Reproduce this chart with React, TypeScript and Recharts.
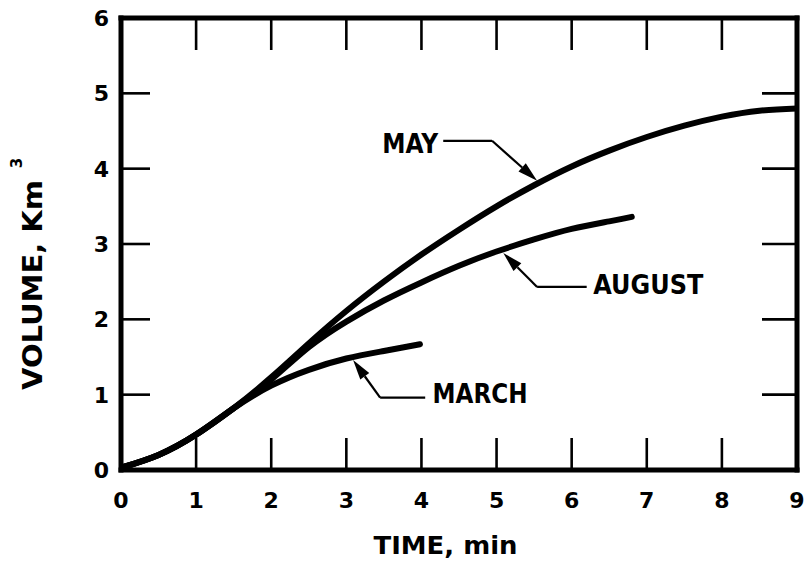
import React from 'react';
import { LineChart, Line, XAxis, YAxis, ReferenceLine, ReferenceDot } from 'recharts';

// Axis ticks
const timeTicks = [0, 1, 2, 3, 4, 5, 6, 7, 8, 9];
const volumeTicks = [0, 1, 2, 3, 4, 5, 6];

// Cumulative volume (km^3) against time (min) for each month
const mayTime = [0, 0.5, 1, 1.5, 2, 2.5, 3, 3.5, 4, 4.5, 5, 5.5, 6, 6.5, 7, 7.5, 8, 8.5, 9];
const mayVolume = [0.03, 0.2, 0.47, 0.82, 1.23, 1.68, 2.11, 2.5, 2.86, 3.19, 3.5, 3.78, 4.03, 4.24, 4.42, 4.57, 4.69, 4.77, 4.8];

const augustTime = [0, 0.5, 1, 1.5, 2, 2.5, 3, 3.5, 4, 4.5, 5, 5.5, 6, 6.5, 6.8];
const augustVolume = [0.03, 0.2, 0.47, 0.82, 1.2, 1.63, 1.97, 2.25, 2.49, 2.71, 2.9, 3.06, 3.2, 3.3, 3.36];

const marchTime = [0, 0.5, 1, 1.5, 2, 2.5, 3, 3.5, 3.98];
const marchVolume = [0.03, 0.2, 0.47, 0.82, 1.12, 1.33, 1.48, 1.58, 1.67];

const toPoints = (ts: number[], vs: number[]) => ts.map((t, i) => ({ t, v: vs[i] }));

const series = [
  { name: 'MAY', data: toPoints(mayTime, mayVolume) },
  { name: 'AUGUST', data: toPoints(augustTime, augustVolume) },
  { name: 'MARCH', data: toPoints(marchTime, marchVolume) },
];

// Callout labels with elbowed leader arrows, placed in data units
const callouts = [
  { name: 'MAY', label: [3.85, 4.33], start: [4.29, 4.37], elbow: [4.94, 4.37], tip: [5.54, 3.84], width: 56 },
  { name: 'AUGUST', label: [7.02, 2.46], start: [6.2, 2.43], elbow: [5.54, 2.43], tip: [5.09, 2.88], width: 110 },
  { name: 'MARCH', label: [4.78, 1.01], start: [4.05, 0.96], elbow: [3.45, 0.96], tip: [3.09, 1.46], width: 95 },
];

const FONT = '"DejaVu Sans", sans-serif';
const INK = '#000';

const BottomTick = (p: any) => {
  const { x, y, payload } = p;
  const v = payload.value;
  return (
    <g>
      {v > 0 && v < 9 && <line x1={x} y1={y} x2={x} y2={y - 32} stroke={INK} strokeWidth={2.6} />}
      <text x={x} y={y + 38} textAnchor="middle" fontFamily={FONT} fontWeight="bold" fontSize={22} fill={INK}>
        {v}
      </text>
    </g>
  );
};

const TopTick = (p: any) => {
  const { x, y, payload } = p;
  const v = payload.value;
  if (v <= 0 || v >= 9) return <g />;
  return <line x1={x} y1={y} x2={x} y2={y + 32} stroke={INK} strokeWidth={2.6} />;
};

const LeftTick = (p: any) => {
  const { x, y, payload } = p;
  const v = payload.value;
  return (
    <g>
      {v > 0 && v < 6 && <line x1={x} y1={y} x2={x + 29} y2={y} stroke={INK} strokeWidth={2.6} />}
      <text x={x - 12} y={y + 8} textAnchor="end" fontFamily={FONT} fontWeight="bold" fontSize={22} fill={INK}>
        {v}
      </text>
    </g>
  );
};

const RightTick = (p: any) => {
  const { x, y, payload } = p;
  const v = payload.value;
  if (v <= 0 || v >= 6) return <g />;
  return <line x1={x} y1={y} x2={x - 35} y2={y} stroke={INK} strokeWidth={2.6} />;
};

const ArrowSegment = (p: any) => {
  const { x1, y1, x2, y2 } = p;
  const dx = x2 - x1;
  const dy = y2 - y1;
  const len = Math.hypot(dx, dy) || 1;
  const ux = dx / len;
  const uy = dy / len;
  const headLen = 20;
  const half = 5.5;
  const bx = x2 - ux * headLen;
  const by = y2 - uy * headLen;
  const pts = `${x2},${y2} ${bx - uy * half},${by + ux * half} ${bx + uy * half},${by - ux * half}`;
  return (
    <g>
      <line x1={x1} y1={y1} x2={bx} y2={by} stroke={INK} strokeWidth={2.2} />
      <polygon points={pts} fill={INK} />
    </g>
  );
};

const makeLabelShape = (text: string, width: number) => (p: any) => (
  <text
    x={p.cx}
    y={p.cy + 9.5}
    textAnchor="middle"
    fontFamily={FONT}
    fontWeight="bold"
    fontSize={26}
    fill={INK}
    textLength={width}
    lengthAdjust="spacingAndGlyphs"
  >
    {text}
  </text>
);

const TimeLabel = (p: any) => {
  const vb = p.viewBox || {};
  const cx = vb.x + vb.width * 0.48;
  return (
    <text x={cx} y={553.5} textAnchor="middle" fontFamily={FONT} fontWeight="bold" fontSize={25} fill={INK} textLength={144} lengthAdjust="spacingAndGlyphs">
      TIME, min
    </text>
  );
};

const VolumeLabel = () => (
  <g>
    <text
      x={42}
      y={285}
      transform="rotate(-90, 42, 285)"
      textAnchor="middle"
      fontFamily={FONT}
      fontWeight="bold"
      fontSize={26}
      fill={INK}
      textLength={210}
      lengthAdjust="spacingAndGlyphs"
    >
      VOLUME, Km
    </text>
    <text x={22} y={163} transform="rotate(-90, 22, 163)" textAnchor="middle" fontFamily={FONT} fontWeight="bold" fontSize={15} fill={INK}>
      3
    </text>
  </g>
);

const frameLine = { stroke: INK, strokeWidth: 5, strokeLinecap: 'square' as const };

export default function App() {
  return (
    <div style={{ position: 'absolute', left: 0, top: 0, background: '#fff' }}>
      <LineChart width={806} height={563} margin={{ top: 17, right: 8, bottom: 33, left: 61 }}>
        <XAxis
          xAxisId="bottom"
          dataKey="t"
          type="number"
          domain={[0, 9]}
          ticks={timeTicks}
          interval={0}
          orientation="bottom"
          height={60}
          axisLine={frameLine}
          tickLine={false}
          tickSize={0}
          tickMargin={0}
          tick={BottomTick}
          allowDataOverflow
          label={{ content: TimeLabel }}
        />
        <XAxis
          xAxisId="top"
          dataKey="t"
          type="number"
          domain={[0, 9]}
          ticks={timeTicks}
          interval={0}
          orientation="top"
          height={1}
          axisLine={frameLine}
          tickLine={false}
          tickSize={0}
          tickMargin={0}
          tick={TopTick}
          allowDataOverflow
        />
        <YAxis
          yAxisId="left"
          type="number"
          domain={[0, 6]}
          ticks={volumeTicks}
          interval={0}
          orientation="left"
          width={60}
          axisLine={frameLine}
          tickLine={false}
          tickSize={0}
          tickMargin={0}
          tick={LeftTick}
          allowDataOverflow
          label={{ content: VolumeLabel }}
        />
        <YAxis
          yAxisId="right"
          type="number"
          domain={[0, 6]}
          ticks={volumeTicks}
          interval={0}
          orientation="right"
          width={1}
          axisLine={frameLine}
          tickLine={false}
          tickSize={0}
          tickMargin={0}
          tick={RightTick}
          allowDataOverflow
        />
        {series.map((s) => (
          <Line
            key={s.name}
            name={s.name}
            data={s.data}
            dataKey="v"
            xAxisId="bottom"
            yAxisId="left"
            type="natural"
            stroke={INK}
            strokeWidth={6}
            strokeLinecap="round"
            strokeLinejoin="round"
            dot={false}
            activeDot={false}
            isAnimationActive={false}
          />
        ))}
        {callouts.map((c) => (
          <ReferenceLine
            key={c.name + '-lead'}
            xAxisId="bottom"
            yAxisId="left"
            segment={[
              { x: c.start[0], y: c.start[1] },
              { x: c.elbow[0], y: c.elbow[1] },
            ]}
            stroke={INK}
            strokeWidth={2.2}
          />
        ))}
        {callouts.map((c) => (
          <ReferenceLine
            key={c.name + '-arrow'}
            xAxisId="bottom"
            yAxisId="left"
            segment={[
              { x: c.elbow[0], y: c.elbow[1] },
              { x: c.tip[0], y: c.tip[1] },
            ]}
            shape={ArrowSegment}
          />
        ))}
        {callouts.map((c) => (
          <ReferenceDot
            key={c.name + '-label'}
            xAxisId="bottom"
            yAxisId="left"
            x={c.label[0]}
            y={c.label[1]}
            r={0}
            shape={makeLabelShape(c.name, c.width)}
          />
        ))}
      </LineChart>
    </div>
  );
}
